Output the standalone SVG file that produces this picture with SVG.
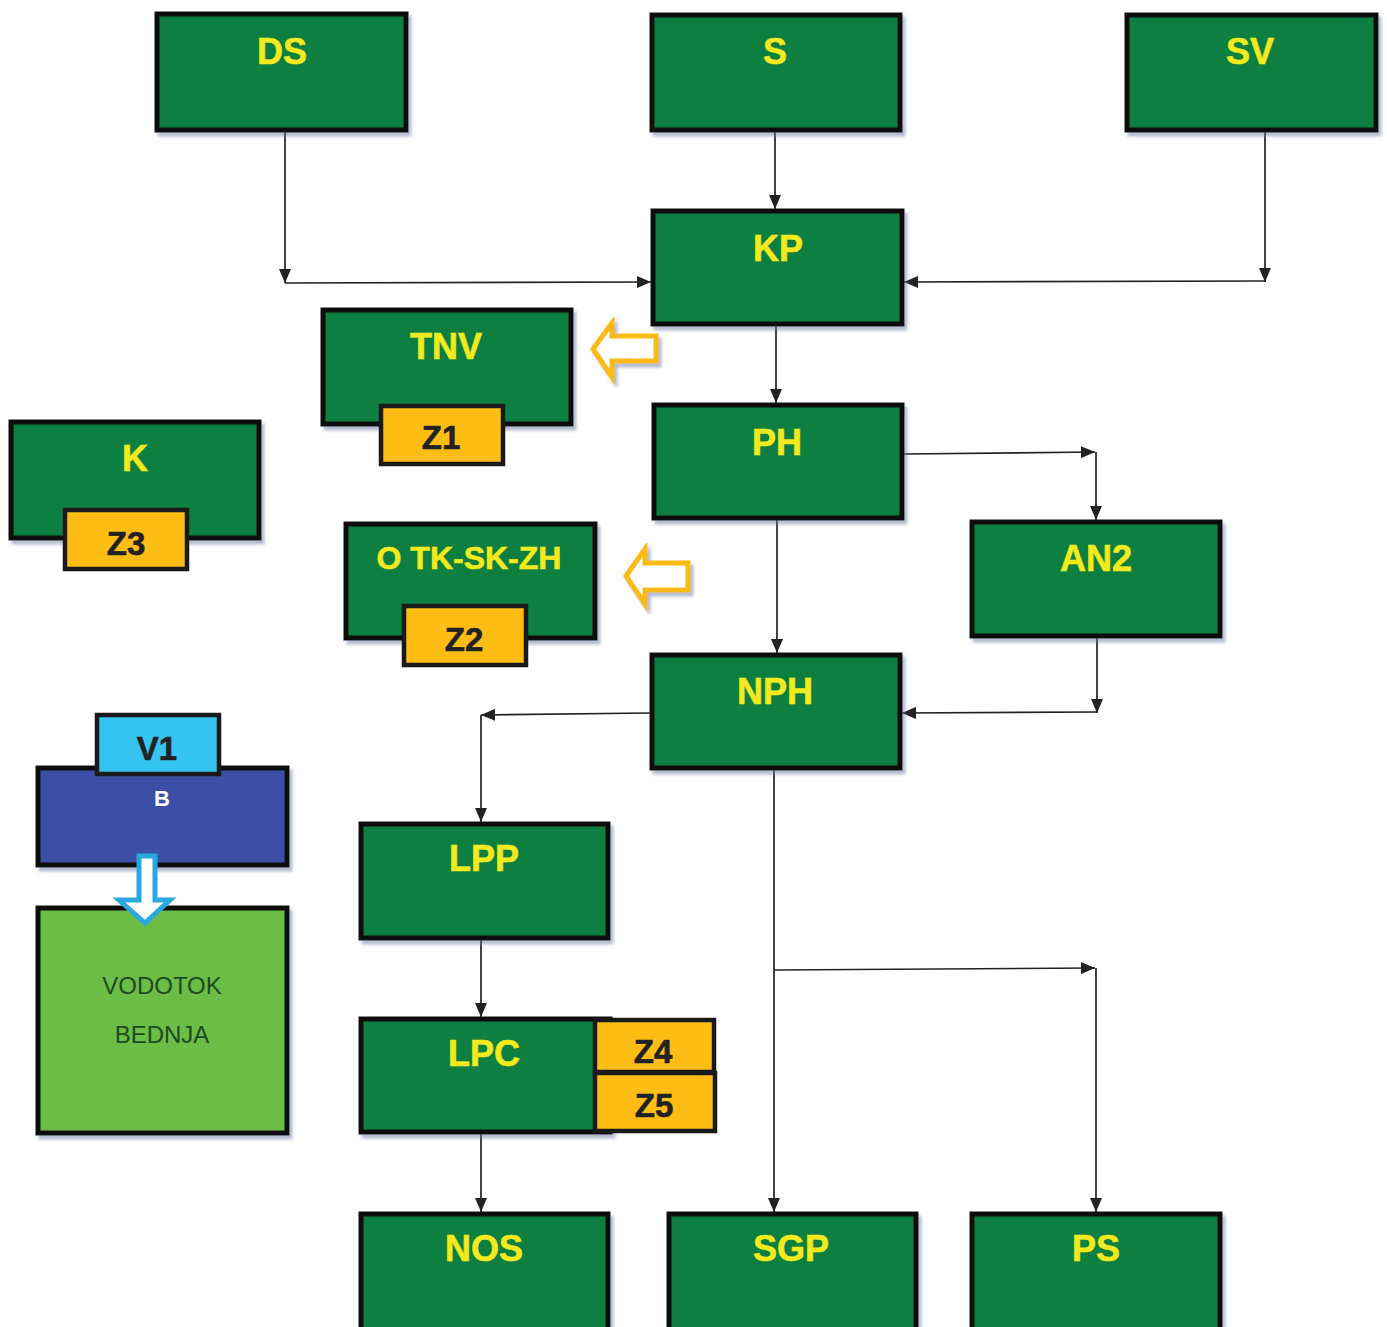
<svg xmlns="http://www.w3.org/2000/svg" width="1387" height="1327" viewBox="0 0 1387 1327">
<style>
.n{fill:#0B7F3F;stroke:#111;stroke-width:5;filter:url(#sh)}
.z{fill:#FDBD14;stroke:#1a1a1a;stroke-width:4.5}
.t{font-family:"Liberation Sans",Arial,sans-serif;font-weight:bold;font-size:36px;fill:#F2EA1E;text-anchor:middle;stroke:#F2EA1E;stroke-width:0.6}
.zt{font-family:"Liberation Sans",Arial,sans-serif;font-weight:bold;font-size:33px;fill:#222;text-anchor:middle;stroke:#222;stroke-width:0.6}
.c{fill:none;stroke:#222;stroke-width:1.7;marker-end:url(#ah)}
.ya{fill:#fff;stroke:#FBBA16;stroke-width:5;stroke-linejoin:miter;filter:url(#sh)}
</style>
<defs>
<filter id="sh" x="-10%" y="-10%" width="125%" height="130%">
<feDropShadow dx="3" dy="4" stdDeviation="1.5" flood-color="#6878a0" flood-opacity="0.5"/>
</filter>
<marker id="ah" viewBox="0 0 14 12" refX="14" refY="6" markerWidth="14" markerHeight="12" markerUnits="userSpaceOnUse" orient="auto">
<path d="M0,0 L14,6 L0,12 Z" fill="#222"/>
</marker>
</defs>
<rect width="1387" height="1327" fill="#fff"/>
<g id="connectors">
<path class="c" d="M285,132 V283"/>
<path class="c" d="M285,283 L651,282"/>
<path class="c" d="M775,132 V209"/>
<path class="c" d="M1265,132 V282"/>
<path class="c" d="M1265,281 L904,282"/>
<path class="c" d="M776,326 V403"/>
<path class="c" d="M904,454 L1095,452"/>
<path class="c" d="M1096,452 V520"/>
<path class="c" d="M777,520 V653"/>
<path class="c" d="M1097,638 V713"/>
<path class="c" d="M1097,712 L902,713"/>
<path class="c" d="M650,713 L481,715"/>
<path class="c" d="M481,715 V822"/>
<path class="c" d="M774,770 V1212"/>
<path class="c" d="M774,970 L1095,968"/>
<path class="c" d="M1096,968 V1212"/>
<path class="c" d="M481,940 V1017"/>
<path class="c" d="M481,1134 V1212"/>
</g>
<g id="DS"><rect class="n" x="157" y="14" width="249" height="116"/><text class="t" x="282" y="64">DS</text></g>
<g id="S"><rect class="n" x="652" y="15" width="248" height="115"/><text class="t" x="775" y="64">S</text></g>
<g id="SV"><rect class="n" x="1127" y="15" width="249" height="115"/><text class="t" x="1250" y="64">SV</text></g>
<g id="KP"><rect class="n" x="653" y="211" width="249" height="113"/><text class="t" x="778" y="261">KP</text></g>
<g id="TNV"><rect class="n" x="323" y="310" width="248" height="114"/><text class="t" x="446" y="359">TNV</text></g>
<g id="Z1"><rect class="z" x="381" y="406" width="122" height="58"/><text class="zt" x="441" y="449">Z1</text></g>
<g id="K"><rect class="n" x="11" y="422" width="248" height="116"/><text class="t" x="135" y="471">K</text></g>
<g id="Z3"><rect class="z" x="65" y="510" width="122" height="59"/><text class="zt" x="126" y="555">Z3</text></g>
<g id="PH"><rect class="n" x="654" y="405" width="248" height="113"/><text class="t" x="777" y="455">PH</text></g>
<g id="OTKSKZH"><rect class="n" x="346" y="524" width="249" height="114"/><text class="t" x="469" y="569" style="font-size:32px">O TK-SK-ZH</text></g>
<g id="Z2"><rect class="z" x="404" y="606" width="122" height="59"/><text class="zt" x="464" y="651">Z2</text></g>
<g id="AN2"><rect class="n" x="972" y="522" width="248" height="114"/><text class="t" x="1096" y="571">AN2</text></g>
<g id="NPH"><rect class="n" x="652" y="655" width="248" height="113"/><text class="t" x="775" y="704">NPH</text></g>
<g id="B"><rect x="38" y="768" width="249" height="97" fill="#3A50A6" stroke="#111" stroke-width="5" filter="url(#sh)"/><text x="162" y="806" font-family="Liberation Sans,Arial,sans-serif" font-weight="bold" font-size="22" fill="#fff" text-anchor="middle">B</text></g>
<g id="V1"><rect x="97" y="715" width="122" height="59" fill="#35C4F0" stroke="#1a1a1a" stroke-width="4.5"/><text class="zt" x="157" y="760">V1</text></g>
<g id="VODOTOK"><rect x="38" y="908" width="249" height="225" fill="#6CBD45" stroke="#111" stroke-width="5" filter="url(#sh)"/>
<text x="162" y="994" font-family="Liberation Sans,Arial,sans-serif" font-size="24" fill="#1E4A22" text-anchor="middle">VODOTOK</text>
<text x="162" y="1043" font-family="Liberation Sans,Arial,sans-serif" font-size="24" fill="#1E4A22" text-anchor="middle">BEDNJA</text></g>
<g id="arrow-B"><polygon points="139,856 155,856 155,900 170,900 145,923 119,900 139,900" fill="#fff" stroke="#29A8E0" stroke-width="5"/></g>
<g id="LPP"><rect class="n" x="361" y="824" width="247" height="114"/><text class="t" x="484" y="871">LPP</text></g>
<g id="LPC"><rect class="n" x="361" y="1019" width="249" height="113"/><text class="t" x="484" y="1066">LPC</text></g>
<g id="Z4"><rect class="z" x="595" y="1020" width="119" height="52"/><text class="zt" x="653" y="1063">Z4</text></g>
<g id="Z5"><rect class="z" x="595" y="1073" width="120" height="58"/><text class="zt" x="654" y="1117">Z5</text></g>
<g id="NOS"><rect class="n" x="361" y="1214" width="247" height="120"/><text class="t" x="484" y="1261">NOS</text></g>
<g id="SGP"><rect class="n" x="669" y="1214" width="247" height="120"/><text class="t" x="791" y="1261">SGP</text></g>
<g id="PS"><rect class="n" x="972" y="1214" width="248" height="120"/><text class="t" x="1096" y="1261">PS</text></g>
<g id="arrow1"><polygon class="ya" points="593,349 612,323 612,336 656,336 656,361 612,361 612,377"/></g>
<g id="arrow2"><polygon class="ya" points="626,576 645,549 645,563 688,563 688,590 645,590 645,604"/></g>
</svg>
